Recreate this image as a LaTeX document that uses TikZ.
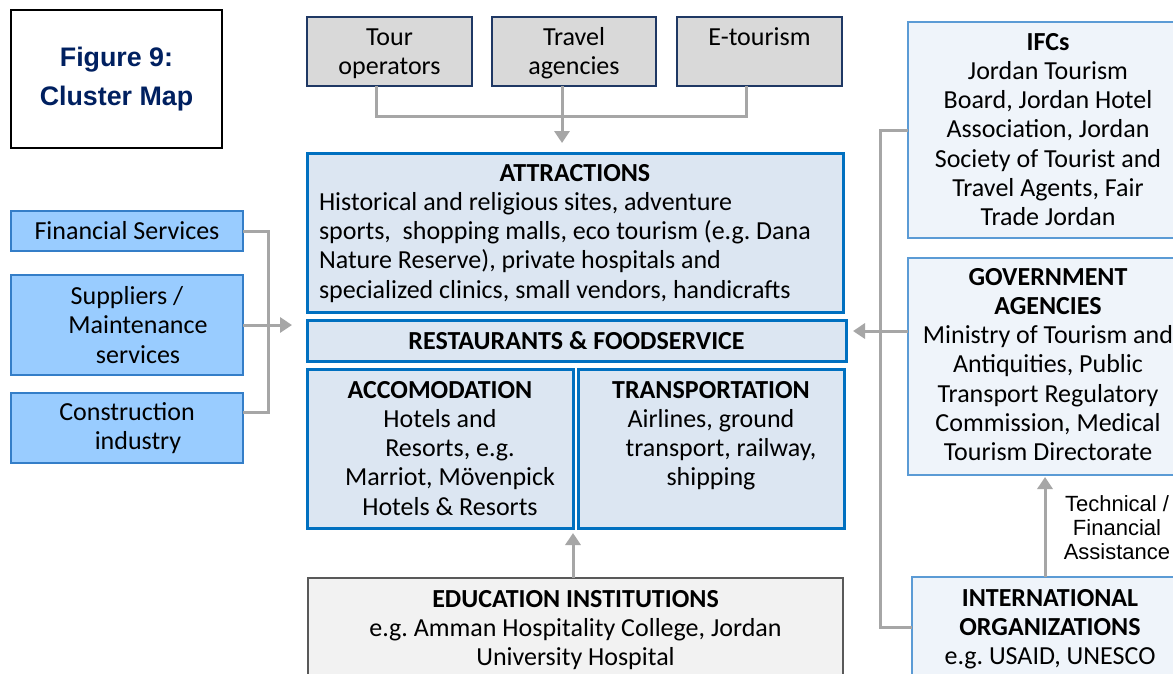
\documentclass[tikz,border=0pt]{standalone}
\usepackage{fontspec}
\setmainfont{Carlito}
\newfontfamily\arialf{Liberation Sans}
\usetikzlibrary{arrows.meta}
\frenchspacing
\definecolor{navy}{RGB}{0,32,96}
\definecolor{mainblue}{RGB}{0,112,192}
\definecolor{mainfill}{RGB}{220,230,242}
\definecolor{sidefill}{RGB}{153,204,255}
\definecolor{sideline}{RGB}{52,126,200}
\definecolor{rightfill}{RGB}{239,244,250}
\definecolor{rightline}{RGB}{91,155,213}
\definecolor{topfill}{RGB}{217,217,217}
\definecolor{topline}{RGB}{31,56,100}
\definecolor{edufill}{RGB}{242,242,242}
\definecolor{eduline}{RGB}{89,89,89}
\definecolor{linegray}{RGB}{166,166,166}
\newcommand{\tbx}[4]{\parbox[c][#2][t]{#1}{\centering\rule{0pt}{#3}#4\par}}
\tikzset{
  bx/.style={inner sep=0pt, outer sep=0pt, anchor=north west},
  titlebox/.style={bx, draw=black, line width=2pt, fill=white, align=center},
  topbox/.style={bx, draw=topline, line width=1.2pt, fill=topfill},
  mainbox/.style={bx, draw=mainblue, line width=3pt, fill=mainfill},
  sidebox/.style={bx, draw=sideline, line width=1.2pt, fill=sidefill, align=center, minimum width=232pt},
  rightbox/.style={bx, draw=rightline, line width=1.5pt, fill=rightfill},
  edubox/.style={bx, draw=eduline, line width=1.2pt, fill=edufill},
  conn/.style={draw=linegray, line width=3pt},
  arrowc/.style={conn, -{Triangle[width=15pt,length=12pt]}},
}
\begin{document}
\begin{tikzpicture}[x=1pt, y=-1pt, font=\fontsize{26}{29.3}\selectfont\frenchspacing]
\useasboundingbox (0,0) rectangle (1173,673);
\fill[white] (0,0) rectangle (1173,673);
\clip (0,0) rectangle (1173,673);

% title
\node[titlebox, minimum width=211pt, minimum height=138pt, text=navy,
      font=\arialf\bfseries\fontsize{26.8}{39}\selectfont] (title) at (11,10) {Figure 9:\\Cluster Map};

% top boxes
\node[topbox] (tour) at (307,17) {\tbx{165pt}{69pt}{28pt}{Tour\\operators}};
\node[topbox] (travel) at (492,17) {\tbx{164pt}{69pt}{28pt}{Travel\\agencies}};
\node[topbox] (etour) at (677,17) {\tbx{165pt}{69pt}{28pt}{E-tourism}};

% central boxes
\node[mainbox] (attr) at (307,153) {\parbox[c][159pt][t]{536pt}{\rule{0pt}{28pt}\makebox[536pt]{\bfseries ATTRACTIONS}\\
\hspace*{12pt}Historical and religious sites, adventure\\
\hspace*{12pt}sports,\ \ shopping malls, eco tourism (e.g. Dana\\
\hspace*{12pt}Nature Reserve), private hospitals and\\
\hspace*{12pt}specialized clinics, small vendors, handicrafts\par}};
\node[mainbox, minimum width=539pt, minimum height=41pt, font=\fontsize{26}{29.3}\selectfont\bfseries] (rest) at (307,320) {RESTAURANTS \& FOODSERVICE};
\node[mainbox] (acc) at (307,369) {\tbx{266pt}{159pt}{29pt}{\textbf{ACCOMODATION}\\Hotels and\\\hspace*{20pt}Resorts, e.g.\\\hspace*{20pt}Marriot, Mövenpick\\\hspace*{20pt}Hotels \& Resorts}};
\node[mainbox] (trans) at (578,369) {\tbx{266pt}{159pt}{29pt}{\textbf{TRANSPORTATION}\\Airlines, ground\\\hspace*{20pt}transport, railway,\\shipping}};
\node[edubox] (edu) at (308,578) {\tbx{535pt}{115pt}{29pt}{\textbf{EDUCATION INSTITUTIONS}\\e.g. Amman Hospitality College, Jordan\\University Hospital}};

% left boxes
\node[sidebox, minimum height=40pt] (fin) at (11,211) {Financial Services};
\node[sidebox, minimum height=100pt] (sup) at (11,275) {Suppliers /\\\hspace*{22pt}Maintenance\\\hspace*{22pt}services};
\node[sidebox, minimum height=70pt] (con) at (11,393) {Construction\\\hspace*{22pt}industry};

% right boxes
\node[rightbox] (ifc) at (908,22) {\tbx{280pt}{216pt}{28pt}{\textbf{IFCs}\\Jordan Tourism\\Board, Jordan Hotel\\Association, Jordan\\Society of Tourist and\\Travel Agents, Fair\\Trade Jordan}};
\node[rightbox] (gov) at (908,258) {\tbx{280pt}{217pt}{27pt}{\textbf{GOVERNMENT}\\\textbf{AGENCIES}\\Ministry of Tourism and\\Antiquities, Public\\Transport Regulatory\\Commission, Medical\\Tourism Directorate}};
\node[rightbox] (intl) at (912,577) {\tbx{276pt}{116pt}{29pt}{\textbf{INTERNATIONAL}\\\textbf{ORGANIZATIONS}\\e.g. USAID, UNESCO}};

\node[font=\arialf\fontsize{22}{24}\selectfont, align=center] (tfa) at (1117,528) {Technical /\\Financial\\Assistance};

% connectors
\coordinate (lt) at (292,325);
\coordinate (rt) at (853,331);
\coordinate (rb) at (880,627);

\draw[conn] ([xshift=-13.5pt]tour.south) -- ++(0,30) -| ([xshift=-13.5pt]etour.south);
\draw[arrowc, shorten >=10pt] ([xshift=-12pt]travel.south) -- ([xshift=-12pt]travel.south |- attr.north);

\draw[conn] (fin.east) -- ++(25,0) |- ([yshift=16pt]con.east);
\draw[arrowc] (sup.east) -- (lt);

\draw[conn] (ifc.west) -| (rb) -- (rb -| intl.west);
\draw[arrowc] (rt -| gov.west) -- (rt);

\draw[arrowc, shorten >=5pt] (edu.north -| acc.south east) -- (acc.south east);
\draw[arrowc, shorten >=2pt] ([xshift=-5pt]intl.north) -- ([xshift=-5pt]intl.north |- gov.south);
\end{tikzpicture}
\end{document}
